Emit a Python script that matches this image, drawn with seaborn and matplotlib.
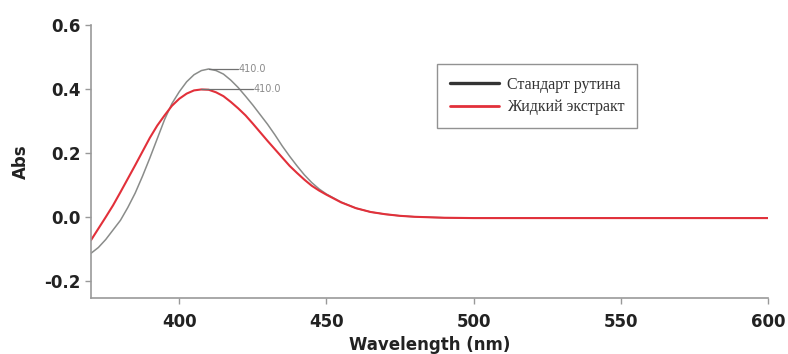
import matplotlib
matplotlib.use("Agg")
import matplotlib.pyplot as plt
import pandas as pd
import seaborn as sns
import numpy as np
from matplotlib.lines import Line2D

# wavelength (nm) and absorbance
wl_rutin = [370, 372.5, 375, 377.5, 380, 382.5, 385, 387.5, 390, 392.5, 395, 397.5,
            400, 402.5, 405, 407.5, 410, 412.5, 415, 417.5, 420, 422.5, 425, 427.5,
            430, 432.5, 435, 437.5, 440, 442.5, 445, 447.5, 450, 455, 460, 465,
            470, 475, 480, 490, 500, 600]
abs_rutin = [-0.113, -0.095, -0.07, -0.04, -0.01, 0.03, 0.075, 0.128, 0.185, 0.245,
             0.305, 0.355, 0.392, 0.423, 0.445, 0.458, 0.463, 0.458, 0.447, 0.428,
             0.405, 0.378, 0.350, 0.320, 0.290, 0.257, 0.222, 0.19, 0.16, 0.132,
             0.108, 0.088, 0.072, 0.047, 0.028, 0.016, 0.009, 0.004, 0.001,
             -0.002, -0.003, -0.003]

wl_extract = [370, 372.5, 375, 377.5, 380, 382.5, 385, 387.5, 390, 392.5, 395, 397.5,
              400, 402.5, 405, 407.5, 410, 412.5, 415, 417.5, 420, 422.5, 425, 427.5,
              430, 432.5, 435, 437.5, 440, 442.5, 445, 447.5, 450, 455, 460, 465,
              470, 475, 480, 490, 500, 600]
abs_extract = [-0.072, -0.036, 0.0, 0.037, 0.078, 0.12, 0.162, 0.205, 0.248, 0.286,
               0.318, 0.348, 0.370, 0.386, 0.396, 0.399, 0.398, 0.390, 0.378, 0.360,
               0.340, 0.318, 0.292, 0.265, 0.238, 0.212, 0.186, 0.160, 0.138, 0.117,
               0.098, 0.083, 0.070, 0.046, 0.028, 0.016, 0.009, 0.004, 0.001,
               -0.002, -0.003, -0.003]

labels = ["Стандарт рутина", "Жидкий экстракт"]
peak_text = ["410.0", "410.0"]

df_r = pd.DataFrame({"wl": wl_rutin, "abs": abs_rutin})
df_e = pd.DataFrame({"wl": wl_extract, "abs": abs_extract})

sns.set_style("ticks")
plt.rcParams['font.family'] = ['DejaVu Sans']

fig = plt.figure(figsize=(7.88, 3.54), dpi=100)
ax = fig.add_axes([0.1155, 0.158, 0.859, 0.771])

sns.lineplot(data=df_r, x="wl", y="abs", ax=ax, color="#8a8c8a", linewidth=1.1)
sns.lineplot(data=df_e, x="wl", y="abs", ax=ax, color="#e2303a", linewidth=1.5)

# peak labels with leader lines
i_r = int(np.argmax(abs_rutin))
i_e = int(np.argmax(abs_extract))
ax.plot([wl_rutin[i_r], 420], [abs_rutin[i_r]] * 2, color="#707070", lw=0.9)
ax.text(420.3, abs_rutin[i_r], peak_text[0], fontsize=7, color="#8a8a8a", va="center")
ax.plot([wl_extract[i_e], 425], [abs_extract[i_e]] * 2, color="#707070", lw=0.9)
ax.text(425.3, abs_extract[i_e], peak_text[1], fontsize=7, color="#8a8a8a", va="center")

ax.set_xlim(370, 600)
ax.set_ylim(-0.253, 0.6)
ax.set_xticks([400, 450, 500, 550, 600])
ax.set_yticks([-0.2, 0.0, 0.2, 0.4, 0.6])
ax.set_yticklabels(["-0.2", "0.0", "0.2", "0.4", "0.6"])
ax.tick_params(colors="#999999", labelcolor="#222222", length=4, width=1,
               labelsize=12)
ax.tick_params(axis="x", pad=7)
for lab in ax.get_xticklabels() + ax.get_yticklabels():
    lab.set_fontweight("bold")
for s in ["left", "bottom"]:
    ax.spines[s].set_color("#999999")
    ax.spines[s].set_linewidth(1.2)
sns.despine(ax=ax)

ax.set_xlabel("Wavelength (nm)", fontsize=12, fontweight="bold", color="#222222", labelpad=3)
ax.set_ylabel("Abs", fontsize=12, fontweight="bold", color="#222222", labelpad=10)

handles = [Line2D([], [], color="#333333", lw=2.4),
           Line2D([], [], color="#e2303a", lw=2.0)]
leg = ax.legend(handles, labels, loc="upper left", bbox_to_anchor=(0.511, 0.857),
                borderaxespad=0, prop={"family": "Liberation Serif", "size": 11.5},
                frameon=True, fancybox=False, handlelength=3.1, borderpad=0.8,
                labelspacing=0.4, handletextpad=0.5)
leg.get_frame().set_edgecolor("#777777")
leg.get_frame().set_linewidth(1.0)
for t in leg.get_texts():
    t.set_color("#333333")

fig.savefig("out.png", dpi=100)
